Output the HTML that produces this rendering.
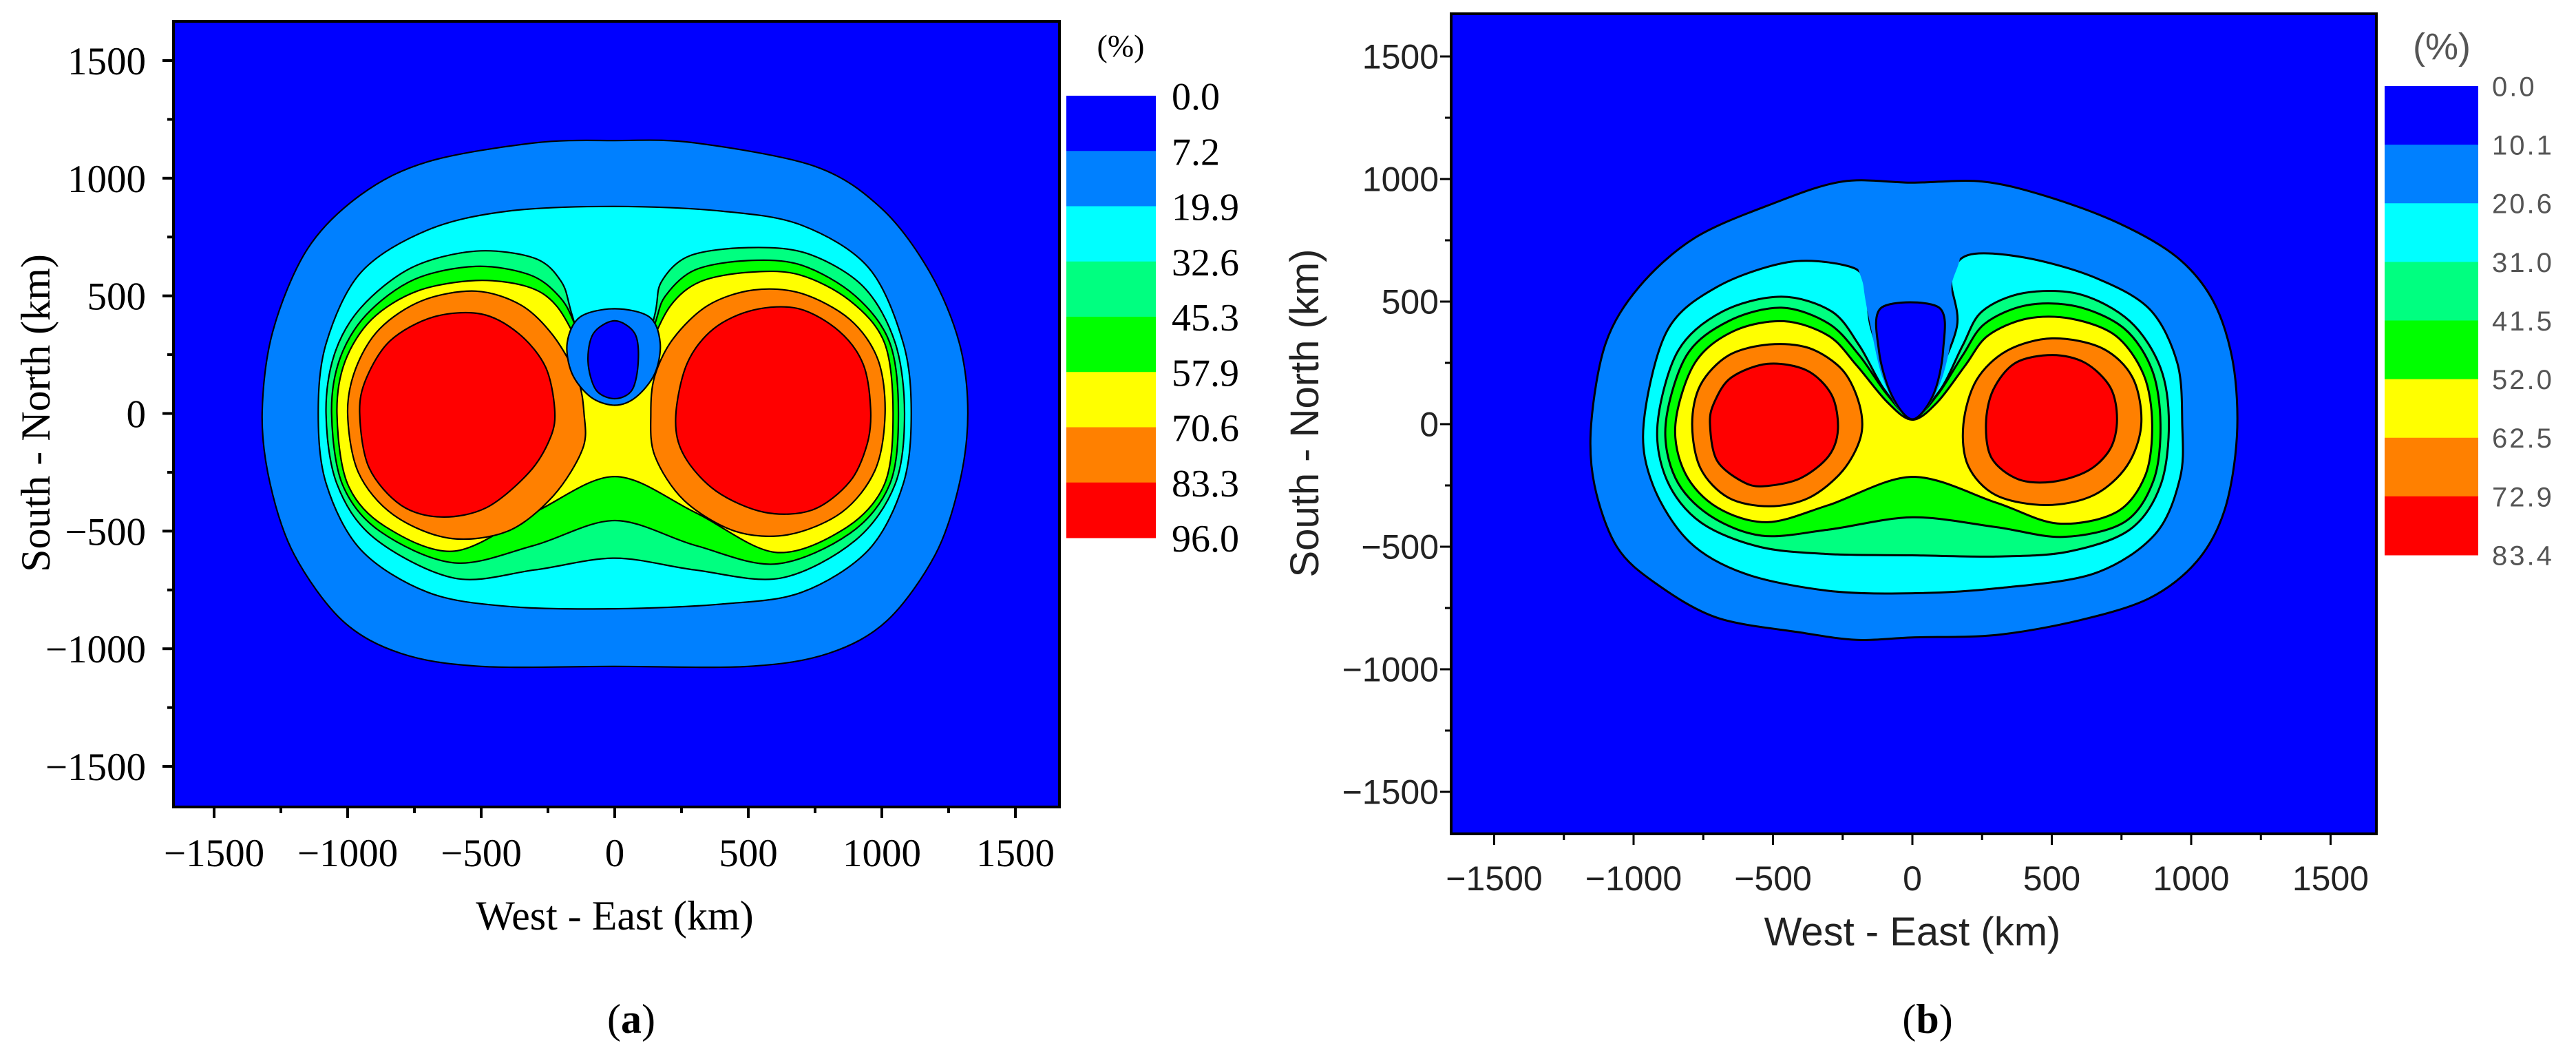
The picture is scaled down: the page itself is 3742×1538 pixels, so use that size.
<!DOCTYPE html>
<html><head><meta charset="utf-8"><style>
html,body{margin:0;padding:0;background:#fff;}
svg{display:block;}
</style></head>
<body>
<svg id="fig" width="3742" height="1538" viewBox="0 0 3742 1538" xmlns="http://www.w3.org/2000/svg">
<rect width="3742" height="1538" fill="#fff"/>
<g id="pa"></g>
<g id="pb"></g>
</svg>
<script>
// ---------- shared data ----------
const levelColors = ["#0000ff","#0080ff","#00ffff","#00ff80","#00ff00","#ffff00","#ff8000","#ff0000"];
const majorTicks = [-1500,-1000,-500,0,500,1000,1500];
const minorTicks = [-1250,-750,-250,250,750,1250];

// ---------- panel (a) data ----------
const legendLabelsA = ["0.0","7.2","19.9","32.6","45.3","57.9","70.6","83.3","96.0"];
const aL1 = [[-1320,0],[-1290,-300],[-1200,-600],[-1020,-880],[-800,-1020],[-500,-1075],[0,-1075],[500,-1075],[800,-1020],[1020,-880],[1200,-600],[1290,-300],[1322,0],[1290,300],[1180,600],[1000,870],[750,1050],[300,1150],[0,1160],[-300,1150],[-700,1070],[-950,930],[-1150,700],[-1280,350]];
const aL2 = [[-1110,0],[-1080,-300],[-950,-580],[-700,-760],[-400,-820],[0,-830],[400,-810],[700,-760],[950,-580],[1080,-300],[1110,0],[1080,300],[950,620],[700,800],[400,860],[0,880],[-400,860],[-700,780],[-950,600],[-1080,300]];
const aL3 = [[-1081,0],[-1040,-300],[-900,-530],[-600,-700],[-300,-665],[0,-615],[300,-665],[620,-700],[900,-540],[1050,-300],[1085,0],[1050,300],[930,540],[720,680],[500,705],[280,670],[175,560],[150,420],[80,120],[0,50],[-80,120],[-160,420],[-200,560],[-300,660],[-520,690],[-760,620],[-950,450],[-1050,250]];
const aL4 = [[-1060,0],[-1020,-300],[-880,-500],[-600,-635],[-300,-560],[0,-455],[300,-560],[600,-640],[880,-510],[1030,-300],[1062,0],[1030,300],[900,500],[700,630],[500,650],[300,610],[190,500],[150,380],[70,110],[0,45],[-70,110],[-150,380],[-210,500],[-320,590],[-520,625],[-750,570],[-930,420],[-1030,230]];
const aL5 = [[-1040,0],[-1000,-300],[-860,-480],[-600,-585],[-300,-420],[0,-268],[300,-420],[600,-590],[860,-490],[1010,-300],[1042,0],[1010,300],[880,480],[690,590],[500,600],[320,560],[210,460],[130,280],[60,90],[0,35],[-60,90],[-130,280],[-220,460],[-330,540],[-520,565],[-740,520],[-910,400],[-1010,220]];
const aL6left = [[-1000,0],[-960,-250],[-830,-430],[-620,-530],[-400,-500],[-230,-350],[-120,-150],[-115,0],[-140,150],[-230,330],[-350,460],[-520,520],[-720,480],[-880,360],[-970,190]];
const aL6right = [[135,0],[150,-180],[260,-370],[450,-500],[650,-515],[850,-420],[975,-240],[1012,0],[985,230],[880,400],[700,510],[520,525],[350,460],[220,320],[150,160]];
const aL7left = [[-955,0],[-920,-230],[-800,-390],[-650,-440],[-480,-400],[-320,-250],[-240,-100],[-225,20],[-260,200],[-360,340],[-500,423],[-680,410],[-840,310],[-930,150]];
const aL7right = [[228,-20],[260,-180],[380,-330],[560,-420],[740,-410],[880,-290],[945,-130],[958,20],[930,210],[840,350],[690,445],[520,440],[370,360],[270,210]];
const aHoleRing = [[0,35],[-90,70],[-160,170],[-178,300],[-130,410],[0,445],[130,410],[170,300],[150,170],[80,70]];
const aHoleCore = [[0,63],[-70,100],[-100,220],[-80,340],[0,394],[75,340],[88,220],[65,100]];

// ---------- panel (b) data ----------
const legendLabelsB = ["0.0","10.1","20.6","31.0","41.5","52.0","62.5","72.9","83.4"];
const bL1 = [[-1152,0],[-1140,-250],[-1060,-500],[-920,-650],[-700,-790],[-400,-850],[-200,-880],[0,-870],[300,-860],[600,-800],[850,-710],[1020,-560],[1120,-350],[1164,-50],[1150,250],[1080,500],[950,680],[740,820],[480,930],[250,990],[0,985],[-250,990],[-500,900],[-780,760],[-980,560],[-1100,330]];
const bL2 = [[-964,0],[-930,-250],[-800,-480],[-600,-610],[-300,-680],[0,-690],[300,-670],[650,-610],[870,-450],[960,-220],[968,0],[950,250],[850,470],[650,600],[400,680],[200,690],[140,590],[160,400],[70,150],[0,40],[-70,150],[-150,400],[-170,590],[-250,650],[-450,660],[-700,560],[-880,380]];
const bL3 = [[-914,0],[-880,-230],[-760,-400],[-550,-500],[-300,-530],[0,-535],[300,-540],[560,-520],[780,-430],[890,-250],[920,0],[890,230],[780,420],[600,530],[400,535],[250,460],[180,320],[100,140],[0,30],[-100,140],[-190,320],[-290,460],[-470,520],[-680,460],[-840,300]];
const bL4 = [[-885,0],[-850,-220],[-730,-370],[-540,-455],[-300,-430],[0,-380],[300,-420],[540,-460],[760,-400],[865,-230],[890,0],[860,220],[760,390],[590,480],[410,485],[260,410],[180,280],[90,120],[0,25],[-90,120],[-190,280],[-300,410],[-470,475],[-660,420],[-810,280]];
const bL5 = [[-850,0],[-815,-200],[-700,-340],[-520,-400],[-300,-330],[0,-215],[300,-320],[520,-405],[730,-360],[835,-210],[860,0],[830,200],[730,360],[570,430],[410,430],[270,360],[190,240],[90,90],[0,18],[-90,90],[-200,240],[-300,360],[-460,420],[-640,380],[-780,250]];
const bL6left = [[-790,0],[-760,-180],[-660,-300],[-514,-335],[-370,-300],[-250,-190],[-185,-50],[-190,80],[-250,220],[-370,310],[-514,325],[-660,280],[-760,160]];
const bL6right = [[183,0],[200,-170],[300,-290],[480,-330],[650,-290],[770,-170],[821,0],[790,190],[680,310],[502,350],[340,300],[230,180]];
const bL7left = [[-726,0],[-700,-150],[-600,-240],[-520,-252],[-400,-220],[-300,-130],[-267,-20],[-290,120],[-380,220],[-520,246],[-650,190],[-710,90]];
const bL7right = [[264,0],[285,-140],[380,-225],[502,-235],[630,-190],[710,-100],[734,20],[710,150],[620,250],[502,282],[370,250],[290,140]];
const bHoleRing = [[-180,720],[-175,560],[-150,400],[-110,200],[-50,60],[0,25],[50,60],[110,200],[145,400],[140,560],[150,720]];
const bHoleCore = [[-110,476],[95,476],[110,300],[75,120],[0,20],[-75,120],[-120,300]];

const NS = "http://www.w3.org/2000/svg";
function mk(parent, tag, attrs){
  const e = document.createElementNS(NS, tag);
  for (const k in attrs) e.setAttribute(k, attrs[k]);
  parent.appendChild(e);
  return e;
}
function smoothPath(pts, sx, sy){
  const p = pts.map(q => [sx(q[0]), sy(q[1])]);
  const n = p.length;
  let d = "M" + p[0][0].toFixed(1) + "," + p[0][1].toFixed(1);
  for (let i = 0; i < n; i++){
    const p0 = p[(i-1+n)%n], p1 = p[i], p2 = p[(i+1)%n], p3 = p[(i+2)%n];
    const t = 0.16;
    const c1 = [p1[0] + (p2[0]-p0[0])*t, p1[1] + (p2[1]-p0[1])*t];
    const c2 = [p2[0] - (p3[0]-p1[0])*t, p2[1] - (p3[1]-p1[1])*t];
    d += "C" + c1[0].toFixed(1)+","+c1[1].toFixed(1)+" "+c2[0].toFixed(1)+","+c2[1].toFixed(1)+" "+p2[0].toFixed(1)+","+p2[1].toFixed(1);
  }
  return d + "Z";
}

function drawPanel(cfg){
  const g = document.getElementById(cfg.id);
  const sx = v => cfg.x0 + v * cfg.kx;
  const sy = v => cfg.y0 - v * cfg.ky;
  const L = cfg.left, R = cfg.right, T = cfg.top, B = cfg.bottom;
  const clipId = cfg.id + "-clip";
  const defs = mk(g, "defs", {});
  const cp = mk(defs, "clipPath", {id: clipId});
  mk(cp, "rect", {x: L, y: T, width: R-L, height: B-T});

  const plot = mk(g, "g", {"clip-path": "url(#" + clipId + ")"});
  
  
  const bg = mk(plot, "rect", {x: L, y: T, width: R-L, height: B-T, fill: levelColors[0]});
  
  
  cfg.layers.forEach(layer => {
    layer.shapes.forEach(shape => {
      const path = mk(plot, "path", {d: smoothPath(shape, sx, sy), fill: layer.color, stroke: layer.noStroke ? "none" : "#000", "stroke-width": cfg.sw, "stroke-linejoin": "round"});
      
      
    });
  });
  const frame = mk(g, "rect", {x: L, y: T, width: R-L, height: B-T, fill: "none", stroke: "#000", "stroke-width": cfg.fw});
  
  

  const ff = cfg.font;
  majorTicks.forEach(v => {
    const x = sx(v);
    const tx = mk(g, "line", {x1: x, x2: x, y1: B, y2: B + cfg.majLen, stroke: "#000", "stroke-width": cfg.tw});
    
    
    const lx = mk(g, "text", {x: x, y: cfg.xLabelY, "text-anchor": "middle", "font-family": ff, "font-size": cfg.tickFs, fill: cfg.tickFill});
    lx.textContent = String(v).replace("-", "\u2212");
    
    
    const y = sy(v);
    const ty = mk(g, "line", {x1: L - cfg.majLen, x2: L, y1: y, y2: y, stroke: "#000", "stroke-width": cfg.tw});
    
    
    const ly = mk(g, "text", {x: cfg.yLabelX, y: y + cfg.tickFs*0.35, "text-anchor": "end", "font-family": ff, "font-size": cfg.tickFs, fill: cfg.tickFill});
    ly.textContent = String(v).replace("-", "\u2212");
    
    
  });
  minorTicks.forEach(v => {
    const x = sx(v);
    const tx = mk(g, "line", {x1: x, x2: x, y1: B, y2: B + cfg.minLen, stroke: "#000", "stroke-width": cfg.tw});
    
    
    const y = sy(v);
    const ty = mk(g, "line", {x1: L - cfg.minLen, x2: L, y1: y, y2: y, stroke: "#000", "stroke-width": cfg.tw});
    
    
  });

  const xt = mk(g, "text", {x: cfg.xTitleX, y: cfg.xTitleY, "text-anchor": "middle", "font-family": ff, "font-size": cfg.titleFs, fill: cfg.tickFill});
  xt.textContent = "West - East (km)";
  
  
  const yt = mk(g, "text", {x: 0, y: 0, "text-anchor": "middle", "font-family": ff, "font-size": cfg.titleFs, fill: cfg.tickFill, transform: "translate(" + cfg.yTitleX + "," + cfg.yTitleY + ") rotate(-90)"});
  yt.textContent = "South - North (km)";
  
  

  // legend
  const lg = mk(g, "g", {});
  
  
  const bh = (cfg.legB - cfg.legT) / levelColors.length;
  levelColors.forEach((c, i) => {
    const r = mk(lg, "rect", {x: cfg.legL, y: cfg.legT + i*bh, width: cfg.legW, height: bh + 0.5, fill: c});
    
    
  });
  cfg.legendLabels.forEach((s, i) => {
    const t = mk(lg, "text", {x: cfg.legTextX, y: cfg.legT + i*bh + cfg.legFs*0.36, "font-family": ff, "font-size": cfg.legFs, fill: cfg.legFill, "letter-spacing": cfg.legLs});
    t.textContent = s;
    
    
  });
  const u = mk(lg, "text", {x: cfg.unitX, y: cfg.unitY, "text-anchor": "middle", "font-family": ff, "font-size": cfg.unitFs, fill: cfg.legFill});
  u.textContent = "(%)";
  
  

  const cap = mk(g, "text", {x: cfg.capX, y: 1500, "text-anchor": "middle", "font-family": "'Liberation Serif', serif", "font-size": 60, fill: "#000"});
  cap.appendChild(document.createTextNode("("));
  const b = mk(cap, "tspan", {"font-weight": "bold"});
  b.textContent = cfg.cap;
  cap.appendChild(document.createTextNode(")"));
  
  
}

drawPanel({
  id: "pa", x0: 893, y0: 600.5, kx: 0.388, ky: 0.3417,
  left: 252, right: 1539, top: 31, bottom: 1172,
  sw: 2.2, fw: 4, tw: 4, majLen: 16, minLen: 9,
  font: "'Liberation Serif', serif", tickFs: 57, tickFill: "#000",
  xLabelY: 1258, yLabelX: 212, titleFs: 60,
  xTitleX: 893, xTitleY: 1350, yTitleX: 72, yTitleY: 600,
  legL: 1549, legW: 130, legT: 139, legB: 781,
  legendLabels: legendLabelsA, legTextX: 1702, legFs: 56, legFill: "#000", legLs: 0,
  unitX: 1628, unitY: 82, unitFs: 46, cap: "a", capX: 917,
  layers: [
    {name: "contour-7.2", color: levelColors[1], shapes: [aL1]},
    {name: "contour-19.9", color: levelColors[2], shapes: [aL2]},
    {name: "contour-32.6", color: levelColors[3], shapes: [aL3]},
    {name: "contour-45.3", color: levelColors[4], shapes: [aL4]},
    {name: "contour-57.9", color: levelColors[5], shapes: [aL5]},
    {name: "contour-70.6", color: levelColors[6], shapes: [aL6left, aL6right]},
    {name: "contour-83.3", color: levelColors[7], shapes: [aL7left, aL7right]},
    {name: "center-ring", color: levelColors[1], shapes: [aHoleRing]},
    {name: "center-core", color: levelColors[0], shapes: [aHoleCore]}
  ]
});

drawPanel({
  id: "pb", x0: 2778, y0: 616, kx: 0.405, ky: 0.356,
  left: 2108, right: 3452, top: 20, bottom: 1211,
  sw: 3, fw: 4, tw: 3, majLen: 16, minLen: 9,
  font: "'Liberation Sans', sans-serif", tickFs: 50, tickFill: "#222",
  xLabelY: 1293, yLabelX: 2090, titleFs: 58,
  xTitleX: 2778, xTitleY: 1373, yTitleX: 1915, yTitleY: 600,
  legL: 3464, legW: 136, legT: 125, legB: 806,
  legendLabels: legendLabelsB, legTextX: 3620, legFs: 40, legFill: "#555", legLs: 3,
  unitX: 3547, unitY: 86, unitFs: 54, cap: "b", capX: 2800,
  layers: [
    {name: "contour-10.1", color: levelColors[1], shapes: [bL1]},
    {name: "contour-20.6", color: levelColors[2], shapes: [bL2]},
    {name: "contour-31.0", color: levelColors[3], shapes: [bL3]},
    {name: "contour-41.5", color: levelColors[4], shapes: [bL4]},
    {name: "contour-52.0", color: levelColors[5], shapes: [bL5]},
    {name: "contour-62.5", color: levelColors[6], shapes: [bL6left, bL6right]},
    {name: "contour-72.9", color: levelColors[7], shapes: [bL7left, bL7right]},
    {name: "center-notch", color: levelColors[1], noStroke: true, shapes: [bHoleRing]},
    {name: "center-core", color: levelColors[0], shapes: [bHoleCore]}
  ]
});
</script>
</body></html>
